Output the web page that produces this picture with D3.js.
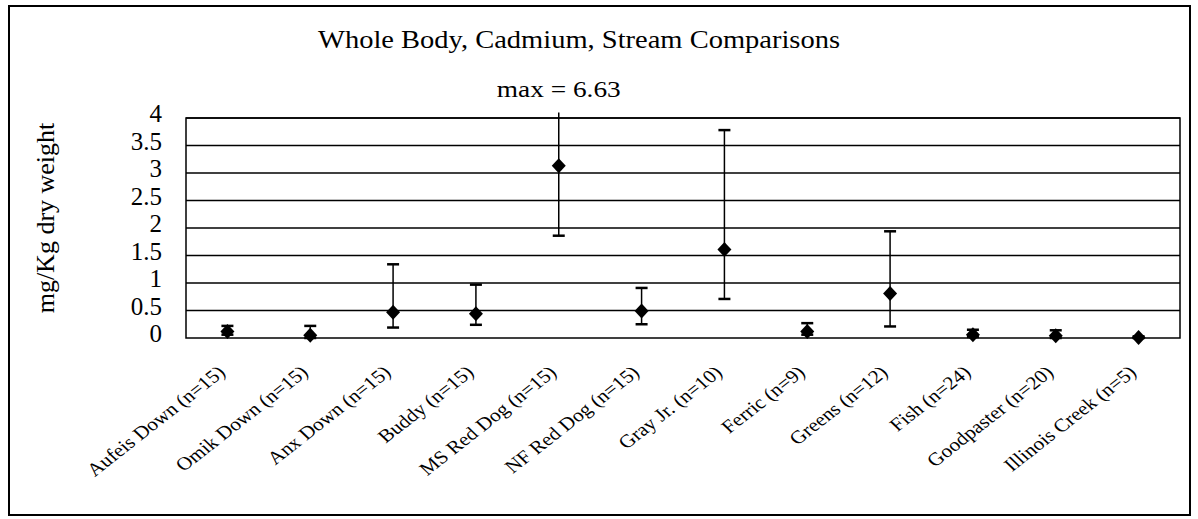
<!DOCTYPE html>
<html><head><meta charset="utf-8">
<script src="https://cdn.jsdelivr.net/npm/d3@7"></script>
<style>
html,body{margin:0;padding:0;background:#fff;}
svg text{font-family:"Liberation Serif",serif;}
</style></head>
<body><svg id="c" width="1198" height="519" font-family="Liberation Serif"></svg>
<script>
const categories = ["Aufeis Down (n=15)","Omik Down (n=15)","Anx Down (n=15)","Buddy (n=15)","MS Red Dog (n=15)","NF Red Dog (n=15)","Gray Jr. (n=10)","Ferric (n=9)","Greens (n=12)","Fish (n=24)","Goodpaster (n=20)","Illinois Creek (n=5)"];
const means = [0.12,0.05,0.47,0.44,3.13,0.49,1.61,0.12,0.81,0.06,0.04,0.01];
const uppers = [0.22,0.22,1.34,0.97,6.63,0.91,3.78,0.27,1.94,0.15,0.14,0.03];
const lowers = [0.06,0.00,0.19,0.24,1.86,0.25,0.71,0.06,0.21,0.02,0.00,0.00];
const yTicks = [0,0.5,1,1.5,2,2.5,3,3.5,4];
const yTickLabels = ["0","0.5","1","1.5","2","2.5","3","3.5","4"];
const title = "Whole Body, Cadmium, Stream Comparisons";
const note = "max = 6.63";
const yLabel = "mg/Kg dry weight";

const FONT = "Liberation Serif";
const svg = d3.select("#c");
const L = 186, R = 1180, T = 118, B = 338;
// outer frame
svg.append("rect").attr("x",9).attr("y",6).attr("width",1181).attr("height",509)
  .attr("fill","none").attr("stroke","#000").attr("stroke-width",2);

const x = d3.scalePoint().domain(categories).range([L,R]).padding(0.5);
const y = d3.scaleLinear().domain([0,4]).range([B,T]);

// gridlines
svg.append("g").selectAll("line").data(yTicks.slice(1)).join("line")
  .attr("x1",L).attr("x2",R).attr("y1",d=>y(d)).attr("y2",d=>y(d))
  .attr("stroke","#000").attr("stroke-width",1.5);
// plot border
svg.append("rect").attr("x",L).attr("y",T).attr("width",R-L).attr("height",B-T)
  .attr("fill","none").attr("stroke","#000").attr("stroke-width",1.5);

// y axis
const yAxis = d3.axisLeft(y).tickValues(yTicks).tickFormat((d,i)=>yTickLabels[i]).tickSize(0).tickPadding(24);
const yg = svg.append("g").attr("transform",`translate(${L},0)`).call(yAxis).attr("font-family",FONT);
yg.select(".domain").remove();
yg.selectAll("text").style("font-size","25px").attr("dy","0.14em");

// x axis labels
const xAxis = d3.axisBottom(x).tickSize(0).tickPadding(0);
const xg = svg.append("g").attr("transform",`translate(0,${B})`).call(xAxis).attr("font-family",FONT);
xg.select(".domain").remove();
xg.selectAll("text").style("font-size","18.5px")
  .attr("text-anchor","end").attr("dy",null).attr("y",0)
  .attr("transform","translate(-1.5,36) scale(1.15,1) rotate(-42)");

// error bars
const data = categories.map((c,i)=>({c,m:means[i],u:uppers[i],l:lowers[i]}));
const clipTop = 4.1;
const eb = svg.append("g").selectAll("g").data(data).join("g");
eb.append("line").attr("x1",d=>x(d.c)).attr("x2",d=>x(d.c))
  .attr("y1",d=>y(Math.min(d.u,clipTop))).attr("y2",d=>y(d.l))
  .attr("stroke","#000").attr("stroke-width",1.5);
eb.filter(d=>d.u<=4).append("line").attr("x1",d=>x(d.c)-6).attr("x2",d=>x(d.c)+6)
  .attr("y1",d=>y(d.u)).attr("y2",d=>y(d.u)).attr("stroke","#000").attr("stroke-width",2.5);
eb.append("line").attr("x1",d=>x(d.c)-6).attr("x2",d=>x(d.c)+6)
  .attr("y1",d=>y(d.l)).attr("y2",d=>y(d.l)).attr("stroke","#000").attr("stroke-width",2.5);
// diamonds
eb.append("path").attr("d","M0,-7.5L7,0L0,7.5L-7,0Z")
  .attr("transform",d=>`translate(${x(d.c)},${y(d.m)})`).attr("fill","#000");

// titles
svg.append("text").attr("x",579).attr("y",48).attr("text-anchor","middle")
  .attr("font-family",FONT).attr("font-size",25)
  .attr("textLength",522).attr("lengthAdjust","spacingAndGlyphs").text(title);
svg.append("text").attr("x",x(categories[4])).attr("y",97).attr("text-anchor","middle")
  .attr("font-family",FONT).attr("font-size",24)
  .attr("textLength",124).attr("lengthAdjust","spacingAndGlyphs").text(note);
svg.append("text").attr("transform",`translate(54,218) rotate(-90)`).attr("text-anchor","middle")
  .attr("font-family",FONT).attr("font-size",26).text(yLabel);
</script></body></html>
